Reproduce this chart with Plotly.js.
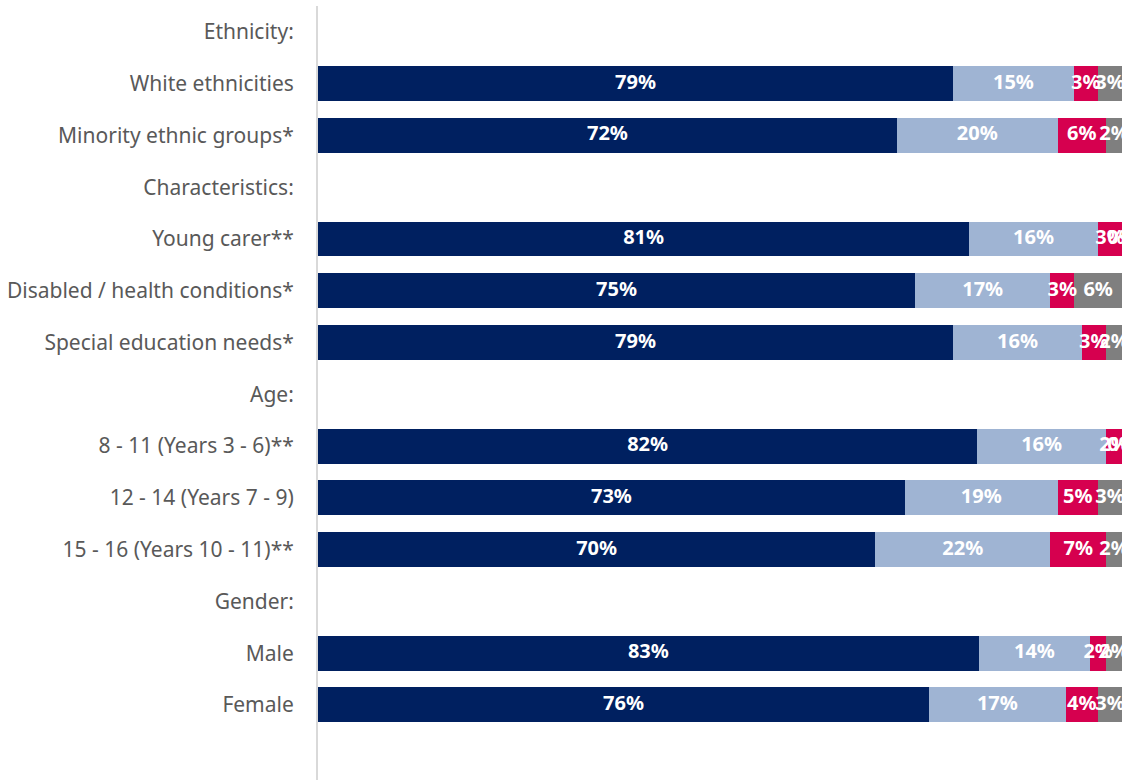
<!DOCTYPE html>
<html><head><meta charset="utf-8">
<script src="https://cdn.plot.ly/plotly-3.0.1.min.js"></script>
<style>body{margin:0;background:#fff}#c{width:1128px;height:780px}</style>
</head><body><div id="c"></div>
<script>
const categories = ["Ethnicity:","White ethnicities","Minority ethnic groups*","Characteristics:","Young carer**","Disabled / health conditions*","Special education needs*","Age:","8 - 11 (Years 3 - 6)**","12 - 14 (Years 7 - 9)","15 - 16 (Years 10 - 11)**","Gender:","Male","Female"," "];
const s1 = [null,79,72,null,81,75,79,null,82,73,70,null,83,76,null];
const s2 = [null,15,20,null,16,17,16,null,16,19,22,null,14,17,null];
const s3 = [null,3,6,null,3,3,3,null,2,5,7,null,2,4,null];
const s4 = [null,3,2,null,0,6,2,null,0,3,2,null,2,3,null];
const colors = ["#002060","#9fb4d3","#d6004f","#7f7f7f"];
const series = [s1,s2,s3,s4];
const font = 'Noto Sans, Open Sans, sans-serif';

const traces = series.map((s,i)=>({
  type:'bar', orientation:'h', y:categories, x:s,
  marker:{color:colors[i]}, hoverinfo:'skip'
}));
// data labels centred on each (row-normalised) segment
const totals = categories.map((c,r)=>series.reduce((a,s)=>a+(s[r]||0),0));
const cum = categories.map(()=>0);
series.forEach((s,i)=>{
  const xs = s.map((v,r)=>{
    if(v===null) return null;
    const w = v/totals[r]*100;
    const mid = cum[r]+w/2; cum[r]+=w; return mid;
  });
  traces.push({type:'scatter', mode:'text', y:categories, x:xs,
    text:s.map(v=>v===null?'':v+'%'), textposition:'middle center',
    textfont:{family:font, size:20, color:'#ffffff', weight:'bold'},
    hoverinfo:'skip', cliponaxis:false});
});
const layout = {
  width:1128, height:780, barmode:'stack', barnorm:'percent', bargap:0.325, showlegend:false,
  margin:{l:318,r:6,t:6,b:0},
  paper_bgcolor:'#fff', plot_bgcolor:'#fff',
  xaxis:{range:[0,100], visible:false, fixedrange:true},
  yaxis:{type:'category', categoryorder:'array', categoryarray:categories,
    range:[14.45,-0.5], showline:true, linecolor:'#d9d9d9', linewidth:2,
    showgrid:false, zeroline:false, ticks:'outside', ticklen:18, tickcolor:'rgba(0,0,0,0)',
    tickfont:{family:font, size:21, color:'#595959'}}
};
Plotly.newPlot('c', traces, layout, {displayModeBar:false, staticPlot:true});
</script></body></html>
